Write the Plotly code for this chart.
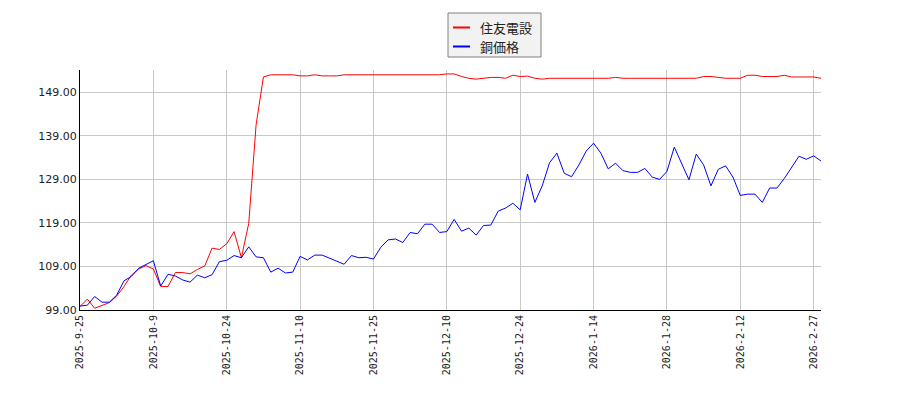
import plotly.graph_objects as go

dates = [
    "2025-9-25", "2025-9-26", "2025-9-29", "2025-9-30",
    "2025-10-1", "2025-10-2", "2025-10-3", "2025-10-6", "2025-10-7", "2025-10-8", "2025-10-9",
    "2025-10-10", "2025-10-14", "2025-10-15", "2025-10-16", "2025-10-17", "2025-10-20",
    "2025-10-21", "2025-10-22", "2025-10-23", "2025-10-24",
    "2025-10-27", "2025-10-28", "2025-10-29", "2025-10-30", "2025-10-31",
    "2025-11-4", "2025-11-5", "2025-11-6", "2025-11-7", "2025-11-10",
    "2025-11-11", "2025-11-12", "2025-11-13", "2025-11-14", "2025-11-17", "2025-11-18",
    "2025-11-19", "2025-11-20", "2025-11-21", "2025-11-25",
    "2025-11-26", "2025-11-27", "2025-12-1", "2025-12-2", "2025-12-3", "2025-12-4",
    "2025-12-5", "2025-12-8", "2025-12-9", "2025-12-10",
    "2025-12-11", "2025-12-12", "2025-12-15", "2025-12-16", "2025-12-17", "2025-12-18",
    "2025-12-19", "2025-12-22", "2025-12-23", "2025-12-24",
    "2025-12-25", "2025-12-26", "2025-12-29", "2026-1-5", "2026-1-6", "2026-1-7",
    "2026-1-8", "2026-1-9", "2026-1-13", "2026-1-14",
    "2026-1-15", "2026-1-16", "2026-1-19", "2026-1-20", "2026-1-21", "2026-1-22",
    "2026-1-23", "2026-1-26", "2026-1-27", "2026-1-28",
    "2026-1-29", "2026-1-30", "2026-2-2", "2026-2-3", "2026-2-4", "2026-2-5",
    "2026-2-6", "2026-2-9", "2026-2-10", "2026-2-12",
    "2026-2-13", "2026-2-16", "2026-2-17", "2026-2-18", "2026-2-19", "2026-2-20",
    "2026-2-24", "2026-2-25", "2026-2-26", "2026-2-27",
    "2026-3-2",
]

sumitomo = [
    99.8, 101.5, 99.4, 100.1, 100.7, 102.2, 104.4, 107.0, 108.4, 109.2,
    108.4, 104.4, 104.4, 107.6, 107.6, 107.3, 108.3, 109.1, 113.2, 112.9,
    114.2, 117.0, 111.0, 118.9, 141.5, 152.5, 153.0, 153.0, 153.0, 153.0,
    152.75, 152.75, 153.0, 152.75, 152.75, 152.75, 153.0, 153.0, 153.0, 153.0,
    153.0, 153.0, 153.0, 153.0, 153.0, 153.0, 153.0, 153.0, 153.0, 153.0,
    153.2, 153.2, 152.6, 152.2, 152.0, 152.2, 152.4, 152.4, 152.2, 152.9,
    152.6, 152.7, 152.2, 152.0, 152.2, 152.2, 152.2, 152.2, 152.2, 152.2,
    152.2, 152.2, 152.2, 152.4, 152.2, 152.2, 152.2, 152.2, 152.2, 152.2,
    152.2, 152.2, 152.2, 152.2, 152.2, 152.6, 152.6, 152.4, 152.2, 152.2,
    152.2, 152.9, 152.9, 152.6, 152.6, 152.6, 152.9, 152.5, 152.5, 152.5,
    152.5, 152.2,
]

copper = [
    99.9, 100.1, 102.1, 100.8, 100.8, 102.4, 105.7, 106.7, 108.6, 109.5,
    110.3, 104.5, 107.2, 106.8, 105.9, 105.4, 107.0, 106.4, 107.1, 110.1,
    110.4, 111.5, 111.0, 113.5, 111.2, 111.0, 107.7, 108.6, 107.5, 107.7,
    111.3, 110.5, 111.6, 111.6, 110.9, 110.1, 109.5, 111.5, 111.0, 111.1,
    110.7, 113.4, 115.1, 115.3, 114.5, 116.8, 116.5, 118.7, 118.7, 116.8,
    117.0, 119.8, 117.1, 117.8, 116.2, 118.4, 118.5, 121.7, 122.4, 123.5,
    122.0, 130.2, 123.7, 127.5, 132.8, 135.0, 130.4, 129.6, 132.3, 135.5,
    137.3, 135.0, 131.4, 132.7, 131.0, 130.6, 130.6, 131.5, 129.5, 129.0,
    130.8, 136.4, 132.7, 128.9, 134.8, 132.3, 127.5, 131.3, 132.1, 129.5,
    125.3, 125.6, 125.6, 123.7, 127.0, 127.0, 129.2, 131.8, 134.3, 133.6,
    134.4, 133.2,
]

series_names = ["住友電設", "銅価格"]
series_colors = ["#ff0000", "#0000ff"]
y_ticks = [99, 109, 119, 129, 139, 149]
x_tick_labels = [dates[i] for i in range(0, 101, 10)]

fig = go.Figure()
for name, vals, col in zip(series_names, [sumitomo, copper], series_colors):
    fig.add_trace(go.Scatter(x=dates, y=vals, mode="lines", name=name,
                             line=dict(color=col, width=1), showlegend=False))

# plot area in screen pixels: x 80..821, y 70..310 ; page has an 8px body offset
OFF = 8
L, R, T, B = 80, 821, 70, 310
def px(xp):
    return (xp - L) / (R - L)
def py(yp):
    return (B - yp) / (B - T)

shapes = [dict(type="rect", xref="paper", yref="paper",
               x0=px(448), x1=px(541), y0=py(13), y1=py(57),
               fillcolor="#f2f2f2", line=dict(color="#808080", width=1), layer="above")]
annotations = []
for k, (name, col) in enumerate(zip(series_names, series_colors)):
    yy = 27.5 + k * 19
    shapes.append(dict(type="line", xref="paper", yref="paper",
                       x0=px(453), x1=px(470), y0=py(yy), y1=py(yy),
                       line=dict(color=col, width=2), layer="above"))
    annotations.append(dict(xref="paper", yref="paper", x=px(478), y=py(yy),
                            text=name, showarrow=False, xanchor="left", yanchor="middle",
                            font=dict(family="Noto Sans CJK JP", size=13, color="#222222")))

fig.update_layout(
    width=900, height=400,
    margin=dict(l=L - OFF, r=900 - R + OFF, t=T - OFF, b=400 - B + OFF, autoexpand=False),
    paper_bgcolor="white", plot_bgcolor="white",
    font=dict(family="DejaVu Sans", size=11, color="#222222"),
    showlegend=False,
    shapes=shapes, annotations=annotations,
)
fig.update_xaxes(
    type="category", range=[0, len(dates) - 1], automargin=False,
    tickmode="array", tickvals=x_tick_labels, ticktext=x_tick_labels,
    tickangle=-90, tickfont=dict(family="DejaVu Sans Mono", size=10, color="#222222"),
    showgrid=True, gridcolor="#c8c8c8", gridwidth=1,
    showline=True, linecolor="black", linewidth=1,
    ticks="", zeroline=False,
)
fig.update_yaxes(
    range=[99, 154.1], tickmode="array", tickvals=y_ticks, tickformat=".2f", automargin=False,
    tickfont=dict(family="DejaVu Sans", size=11, color="#222222"),
    showgrid=True, gridcolor="#c8c8c8", gridwidth=1,
    showline=True, linecolor="black", linewidth=1,
    ticks="", zeroline=False,
)

fig.write_html("out.html")
